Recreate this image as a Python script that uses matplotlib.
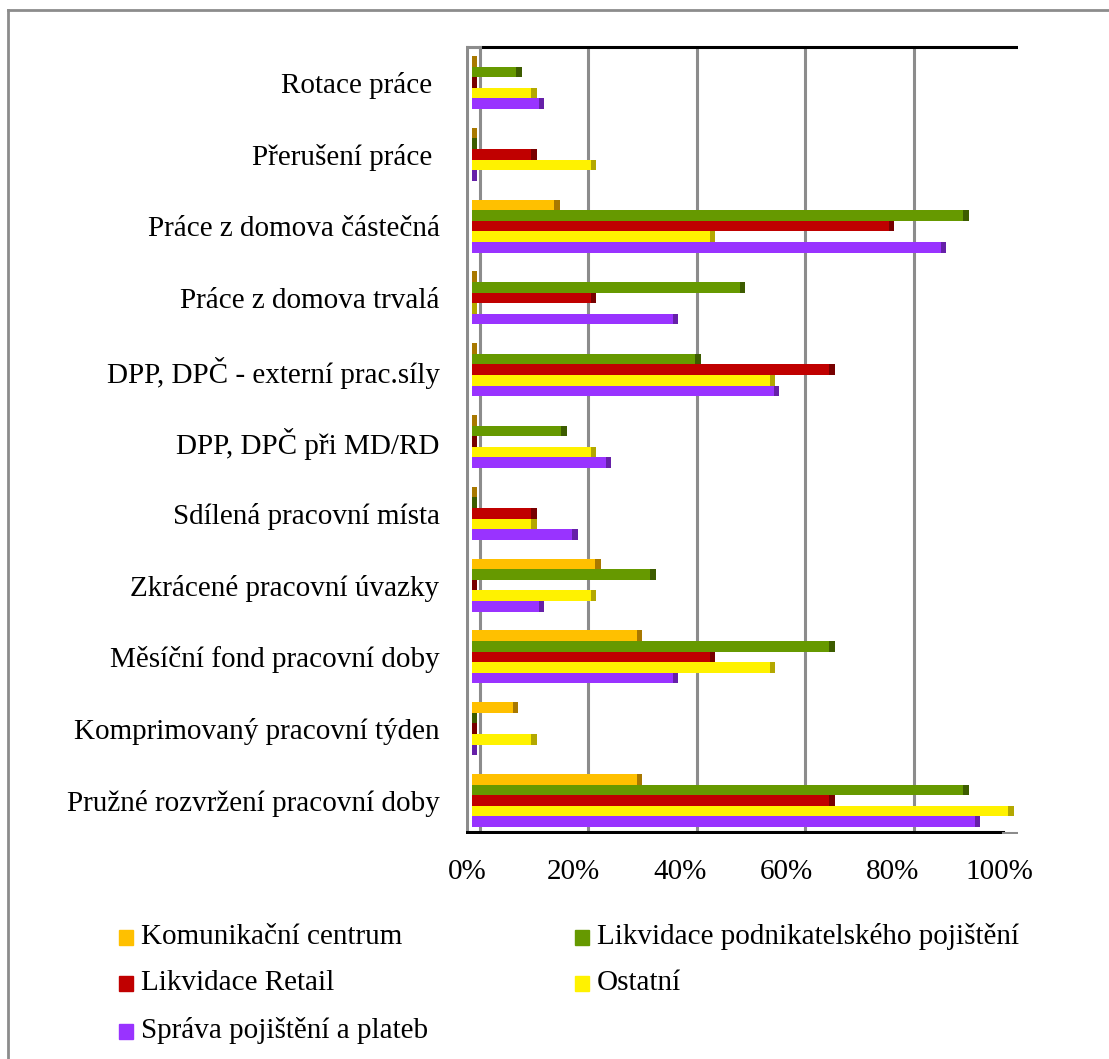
import matplotlib
matplotlib.use("Agg")
import matplotlib.pyplot as plt
from matplotlib.patches import Rectangle
from matplotlib.lines import Line2D
import numpy as np

categories = [
    "Rotace práce ",
    "Přerušení práce ",
    "Práce z domova částečná",
    "Práce z domova trvalá",
    "DPP, DPČ - externí prac.síly",
    "DPP, DPČ při MD/RD",
    "Sdílená pracovní místa",
    "Zkrácené pracovní úvazky",
    "Měsíční fond pracovní doby",
    "Komprimovaný pracovní týden",
    "Pružné rozvržení pracovní doby",
]

series_names = [
    "Komunikační centrum",
    "Likvidace podnikatelského pojištění",
    "Likvidace Retail",
    "Ostatní",
    "Správa pojištění a plateb",
]

komunikacni = [0, 0, 15.4, 0, 0, 0, 0, 23.1, 30.8, 7.7, 30.8]
likv_podnik = [8.3, 0, 91.7, 50.0, 41.7, 16.7, 0, 33.3, 66.7, 0, 91.7]
likv_retail = [0, 11.1, 77.8, 22.2, 66.7, 0, 11.1, 0, 44.4, 0, 66.7]
ostatni = [11.1, 22.2, 44.4, 0, 55.6, 22.2, 11.1, 22.2, 55.6, 11.1, 100.0]
sprava = [12.5, 0, 87.5, 37.5, 56.3, 25.0, 18.8, 12.5, 37.5, 0, 93.8]

tick_values = [0, 20, 40, 60, 80, 100]
tick_labels = ["0%", "20%", "40%", "60%", "80%", "100%"]

all_series = [komunikacni, likv_podnik, likv_retail, ostatni, sprava]
colors = ["#FFC000", "#669900", "#C00000", "#FFF200", "#9933FF"]
cap_colors = ["#A87800", "#3D5C00", "#780000", "#B3A800", "#6620A8"]

W, H = 1109, 1059
fig = plt.figure(figsize=(W / 100, H / 100), dpi=100)
plt.rcParams['font.family'] = ['Liberation Serif', 'DejaVu Serif']

# axes placement in pixels
ax_l, ax_r, ax_t, ax_b = 466, 1018, 45, 834
ax = fig.add_axes([ax_l / W, 1 - ax_b / H, (ax_r - ax_l) / W, (ax_b - ax_t) / H])

px_per = 5.365
x0 = 471.5
xmin = (ax_l - x0) / px_per
xmax = (ax_r - x0) / px_per
ax.set_xlim(xmin, xmax)

group_center0 = 82.5
group_step = 71.8
ymin = (ax_t - group_center0) / group_step
ymax = (ax_b - group_center0) / group_step
ax.set_ylim(ymax, ymin)

for s in ax.spines.values():
    s.set_visible(False)

bh = 10.6 / group_step
cap = 5.5 / px_per
back_off = 1.6
y_idx = np.arange(len(categories))

# back wall gridlines
top_y = (47 - group_center0) / group_step
bot_y = (832 - group_center0) / group_step
for v in tick_values:
    ax.plot([v + back_off + 0.01 * v, v + back_off + 0.01 * v], [top_y, bot_y],
            color="#8c8c8c", lw=2.2, zorder=1, solid_capstyle="butt")
# top edge of back wall
ax.plot([back_off, xmax], [top_y, top_y], color="black", lw=2.2, zorder=2)
ax.plot([xmin + 0.2, back_off], [top_y, top_y], color="#8c8c8c", lw=2.2, zorder=2)
# left side wall
ax.plot([xmin + 0.2, xmin + 0.2], [top_y, bot_y], color="#8c8c8c", lw=2.2, zorder=2)
# bottom front edge
ax.plot([xmin + 0.2, 99.0], [bot_y, bot_y], color="black", lw=2.2, zorder=2)
ax.plot([99.0, 101.5], [bot_y + 0.01, bot_y + 0.01], color="#8c8c8c", lw=2.2, zorder=2)

for i, (vals, c, cc) in enumerate(zip(all_series, colors, cap_colors)):
    ypos = y_idx + (i - 2) * bh
    ax.barh(ypos, vals, height=bh, left=0, color=c, edgecolor="none", zorder=3)
    ax.barh(ypos, [cap] * len(vals), height=bh, left=vals, color=cc, edgecolor="none", zorder=3)

ax.set_yticks(y_idx)
ax.set_yticklabels(categories, fontsize=21)
ax.tick_params(axis="y", length=0, pad=19)
ax.set_xticks([v - 0.75 - 0.009 * v for v in tick_values])
ax.set_xticklabels(tick_labels, fontsize=21)
ax.tick_params(axis="x", length=0, pad=18)

# legend
leg_rows = [937, 983, 1031]
leg_cols = [119, 575]
for i, (name, c) in enumerate(zip(series_names, colors)):
    r, col = i // 2, i % 2
    xs = leg_cols[col]
    yc = leg_rows[r]
    fig.patches.append(Rectangle((xs / W, 1 - (yc + 8) / H), 14 / W, 15 / H,
                                 transform=fig.transFigure, color=c, zorder=5))
    fig.text((xs + 22) / W, 1 - yc / H, name, fontsize=21, va="center", ha="left")

# outer border (top and left edges visible)
fig.lines.append(Line2D([8 / W, 1.0], [1 - 10 / H, 1 - 10 / H], transform=fig.transFigure,
                        color="#8c8c8c", lw=2))
fig.lines.append(Line2D([8 / W, 8 / W], [0.0, 1 - 10 / H], transform=fig.transFigure,
                        color="#8c8c8c", lw=2))

fig.savefig("out.png", dpi=100)
